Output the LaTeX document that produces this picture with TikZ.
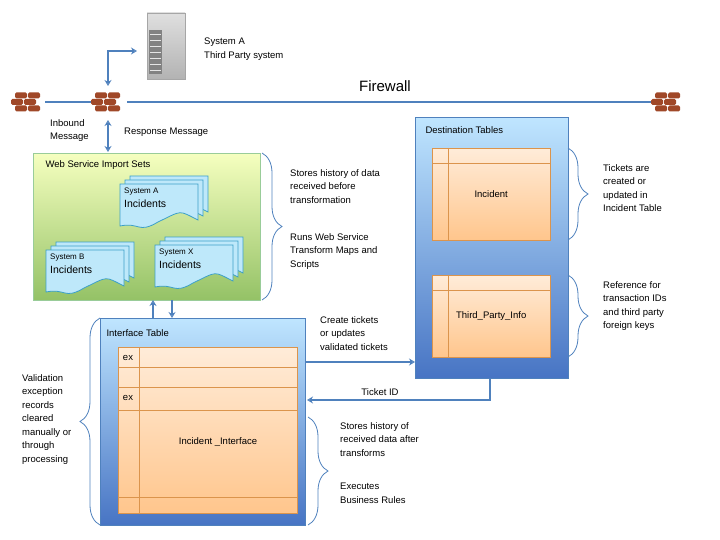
\documentclass[tikz,border=0pt]{standalone}
\usepackage{fontspec}
\setmainfont{Liberation Sans}
\usetikzlibrary{positioning,decorations.pathreplacing,arrows.meta}
\definecolor{flow}{RGB}{79,129,189}
\definecolor{brick}{RGB}{160,72,40}
\definecolor{pagefill}{RGB}{190,232,250}
\definecolor{pageline}{RGB}{60,160,200}
\newcommand{\docpage}[2]{%
  \draw[pageline,fill=pagefill,thick] (#1,#2) -- ++(78,0) -- ++(0,36)
    .. controls +(-20,-10) and +(25,-12) .. ++(-40,2)
    .. controls +(-20,12) and +(20,-4) .. ++(-38,4) -- cycle;}
\newcommand{\docstack}[4]{%
  \docpage{#1+10}{#2}\docpage{#1+5}{#2+4}\docpage{#1}{#2+8}
  \node[anchor=north west,font=\fontsize{8}{9}\selectfont,inner sep=0] (#4) at (#1+4,#2+12) {#3};
  \node[anchor=north west,font=\fontsize{10.5}{12}\selectfont,inner sep=0] at (#1+4,#2+24) {Incidents};}
\newcommand{\firewall}[3]{%
  \begin{scope}[shift={(#1,#2)}]
    \foreach \r/\o in {-6.5/0,0/-4,6.5/0}
      \foreach \c in {-1,1}
        \fill[brick,rounded corners=1.5pt] (\c*6.5-6.5+\o,\r-3) rectangle ++(12,6);
    \coordinate (#3) at (0,0);
  \end{scope}}
\begin{document}
\begin{tikzpicture}[x=1pt,y=-1pt,font=\fontsize{9.5}{13.5}\selectfont,
  link/.style={flow,line width=1.3pt,-{Stealth[length=6pt,width=7pt,open]}},
  twoway/.style={flow,line width=1.3pt,{Stealth[length=6pt,width=7pt,open]}-{Stealth[length=6pt,width=7pt,open]}},
  brace/.style={flow,thick,decorate,decoration={brace,amplitude=20pt,aspect=0.5}},
  note/.style={align=left,anchor=north west,inner sep=0},
  tbl/.style={draw=orange!80!black!70,fill=orange!30,top color=orange!15,bottom color=orange!45}]
\useasboundingbox (0,0) rectangle (720,540);
% firewall line
\firewall{28}{102}{fwl}
\firewall{108}{102}{fwm}
\firewall{668}{102}{fwr}
\draw[flow,line width=1.3pt] (45,102) -- (91,102) (127,102) -- (651,102);
\node[font=\fontsize{15}{18}\selectfont] (fwtext) at (385,86) {Firewall};
% server
\node[draw=gray!70,top color=gray!25,bottom color=gray!60,minimum width=38pt,minimum height=66pt,inner sep=0] (server) at (166,46) {};
\fill[gray!60!black!70] (149,30) rectangle (162,74);
\foreach \y in {34,40,...,70} \draw[white!80!gray] (150,\y) -- (161,\y);
\node[note] (systemA) at (204,38) {System A\\Third Party system};
\coordinate (srvin) at (137,51);
\draw[twoway] (srvin) -| (108,86);
% messages
\draw[twoway] (108,120) -- (108,152);
\node[note] (inbound) at (50,119) {Inbound\\Message};
\node[note] (response) at (124,128) {Response Message};
% web service import sets
\node[draw=green!50!black!40,top color=green!15!yellow!25,bottom color=green!50!yellow!60!black!60,minimum width=227pt,minimum height=147pt,anchor=north west,inner sep=0] (wsis) at (33,153) {};
\node[anchor=west] (wstitle) at (42,165) {Web Service Import Sets};
\docstack{120}{176}{System A}{sysa}
\docstack{46}{242}{System B}{sysb}
\docstack{155}{237}{System X}{sysx}
\draw[brace] (262,153) -- (262,300);
\node[note] (wsnote1) at (290,169) {Stores history of data\\received before\\transformation};
\node[note] (wsnote2) at (290,233) {Runs Web Service\\Transform Maps and\\Scripts};
\draw[link] (153,318) -- (153,300);
\draw[link] (172,300) -- (172,318);
% interface table
\node[draw=flow,top color=blue!40!cyan!25,bottom color=flow!90!blue,minimum width=205pt,minimum height=207pt,anchor=north west,inner sep=0] (iface) at (100,318) {};
\node[anchor=west] (iftitle) at (103,333) {Interface Table};
\node[tbl,minimum width=179pt,minimum height=166pt,anchor=north west,inner sep=0] (ifrows) at (118,347) {};
\draw[orange!80!black!70] (139,347) -- (139,513);
\foreach \y in {367,387,410,497} \draw[orange!80!black!70] (118,\y) -- (297,\y);
\node (ex1) at (128,358) {ex};
\node (ex2) at (128,398) {ex};
\node (ifname) at (218,442) {Incident \_Interface};
\draw[brace] (100,525) -- (100,318);
\node[note] (valnote) at (22,374) {Validation\\exception\\records\\cleared\\manually or\\through\\processing};
\draw[brace] (308,417) -- (308,525);
\node[note] (ifnote1) at (340,422) {Stores history of\\received data after\\transforms};
\node[note] (ifnote2) at (340,483) {Executes\\Business Rules};
% destination tables
\node[draw=flow,top color=blue!40!cyan!25,bottom color=flow!90!blue,minimum width=153pt,minimum height=261pt,anchor=north west,inner sep=0] (dest) at (415,117) {};
\node[anchor=west] (dtitle) at (422,130) {Destination Tables};
\node[tbl,minimum width=118pt,minimum height=92pt,anchor=north west,inner sep=0] (inctbl) at (432,148) {Incident};
\draw[orange!80!black!70] (448,148) -- (448,240) (432,163) -- (550,163);
\node[tbl,minimum width=118pt,minimum height=82pt,anchor=north west,inner sep=0] (tptbl) at (432,275) {Third\_Party\_Info};
\draw[orange!80!black!70] (448,275) -- (448,357) (432,290) -- (550,290);
\draw[brace] (568,148) -- (568,240);
\draw[brace] (568,275) -- (568,357);
\node[note] (incnote) at (603,164) {Tickets are\\created or\\updated in\\Incident Table};
\node[note] (tpnote) at (603,281) {Reference for\\transaction IDs\\and third party\\foreign keys};
% connectors
\coordinate (ifout) at (305,362);
\coordinate (destin) at (415,362);
\draw[link] (ifout) -- (destin);
\node[note] (create) at (320,316) {Create tickets\\or updates\\validated tickets};
\coordinate (destout) at (490,378);
\coordinate (ifin) at (307,400);
\draw[link] (destout) |- (ifin);
\node (ticketid) at (380,392) {Ticket ID};
\end{tikzpicture}
\end{document}
